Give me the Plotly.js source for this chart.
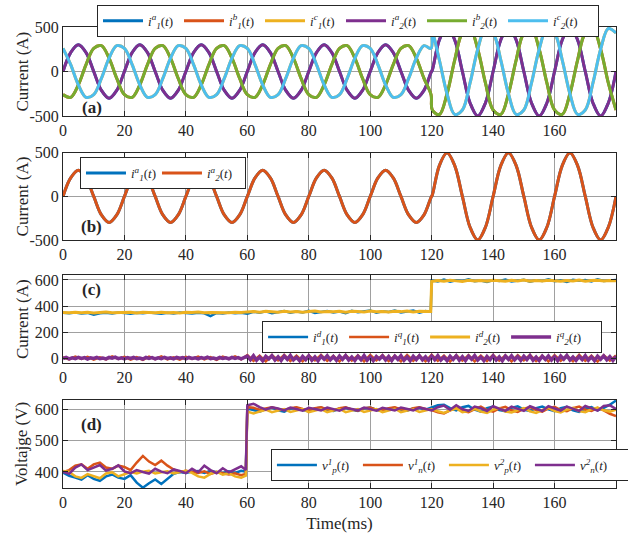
<!DOCTYPE html>
<html>
<head>
<meta charset="utf-8">
<script src="https://cdn.plot.ly/plotly-3.0.1.min.js"></script>
<style>html,body{margin:0;padding:0;background:#fff}#chart{width:628px;height:540px}</style>
</head>
<body>
<div id="chart"></div>
<script>
// ---------- DATA ----------
const xTicks = [0,20,40,60,80,100,120,140,160];
const yTicksAB = [-500,0,500];
const yTickTextAB = ['-500','0','500'];
const yTicksC = [0,200,400,600];
const yTicksD = [400,500,600];
const yTitles = ['Current (A)','Current (A)','Current (A)','Voltajge (V)'];
const panelTags = ['(a)','(b)','(c)','(d)'];

// Panel (a)/(b): phase currents, sampled at peaks / zero crossings
const tAB = [0,2.5,5,7.5,10,12.5,15,17.5,20,22.5,25,27.5,30,32.5,35,37.5,40,42.5,45,47.5,50,52.5,55,57.5,60,62.5,65,67.5,70,72.5,75,77.5,80,82.5,85,87.5,90,92.5,95,97.5,100,102.5,105,107.5,110,112.5,115,117.5,119.8,120.2,122.5,125,127.5,130,132.5,135,137.5,140,142.5,145,147.5,150,152.5,155,157.5,160,162.5,165,167.5,170,172.5,175,177.5,180];
const iA = [0,212,300,212,0,-212,-300,-212, 0,212,300,212,0,-212,-300,-212, 0,212,300,212,0,-212,-300,-212, 0,212,300,212,0,-212,-300,-212, 0,212,300,212,0,-212,-300,-212, 0,212,300,212,0,-212,-300,-212, -10,15, 354,500,354,0,-354,-500,-354,0, 354,500,354,0,-354,-500,-354,0, 354,500,354,0,-354,-500,-354,0];
const iB = [-260,-290,-150,78,260,290,150,-78, -260,-290,-150,78,260,290,150,-78, -260,-290,-150,78,260,290,150,-78, -260,-290,-150,78,260,290,150,-78, -260,-290,-150,78,260,290,150,-78, -260,-290,-150,78,260,290,150,-78, -260,-433, -483,-250,129,433,483,250,-129,-433, -483,-250,129,433,483,250,-129,-433, -483,-250,129,433,483,250,-129,-433];
const iC = [260,78,-150,-290,-260,-78,150,290, 260,78,-150,-290,-260,-78,150,290, 260,78,-150,-290,-260,-78,150,290, 260,78,-150,-290,-260,-78,150,290, 260,78,-150,-290,-260,-78,150,290, 260,78,-150,-290,-260,-78,150,290, 260,433, 129,-250,-483,-433,-129,250,483,433, 129,-250,-483,-433,-129,250,483,433, 129,-250,-483,-433,-129,250,483,433];

// Panel (c): dq currents
const tCd = [0,2,4,6,8,10,12,14,16,18,20,22,24,26,28,30,32,34,36,38,40,42,44,46,48,50,52,54,56,58,60,62,64,66,68,70,72,74,76,78,80,82,84,86,88,90,92,94,96,98,100,102,104,106,108,110,112,114,116,118,119.7,120,122,124,126,128,130,132,134,136,138,140,142,144,146,148,150,152,154,156,158,160,162,164,166,168,170,172,174,176,178,180];
const id1 = [348,344,350,342,347,333,345,349,343,350,346,341,349,344,351,345,340,348,343,350,346,342,349,344,322,347,343,350,345,348,
 340,356,349,360,345,355,362,348,357,351,364,347,356,361,350,358,345,363,352,357,366,349,360,354,365,350,359,366,348,362,
 355,
 597,589,603,586,598,592,605,590,596,584,600,593,604,588,595,601,587,598,593,606,590,597,585,602,594,599,588,605,592,596,600];
const id2 = [351,348,353,349,352,347,350,354,348,351,349,353,347,352,350,348,353,349,351,347,352,350,354,348,351,349,352,348,353,350,
 355,358,353,359,356,352,360,355,358,353,357,361,354,358,356,360,353,359,357,355,361,356,358,354,360,357,362,355,359,358,
 358,
 588,596,591,598,593,589,597,592,595,590,598,594,591,597,593,599,590,595,592,598,594,590,596,593,599,591,595,597,592,596,594];
const tCq1 = [0,2,4,6,8,10,12,14,16,18,20,22,24,26,28,30,32,34,36,38,40,42,44,46,48,50,52,54,56,58,60,62,64,66,68,70,72,74,76,78,80,82,84,86,88,90,92,94,96,98,100,102,104,106,108,110,112,114,116,118,120,122,124,126,128,130,132,134,136,138,140,142,144,146,148,150,152,154,156,158,160,162,164,166,168,170,172,174,176,178,180];
const iq1 = [8,-10,12,-6,10,-12,6,-9,13,-7,9,-11,7,-13,11,-8,14,-10,6,-12,10,-7,12,-9,8,-13,11,-6,13,-10,
 24,-21,18,-25,22,-17,25,-22,19,-24,21,-18,25,-21,17,-25,23,-19,21,-25,24,-18,22,-23,18,-25,24,-20,20,-24,
 25,-21,18,-26,23,-19,22,-25,19,-22,25,-19,21,-25,22,-18,24,-23,18,-25,23,-20,20,-24,25,-21,18,-26,22,-19,21];
const iq2 = [-3,5,-6,2,-4,6,-2,4,-7,3,-2,6,-5,1,-6,5,-1,7,-4,2,-6,4,-3,6,-5,1,-7,5,-2,4,-5,3,-4,6,-3,2,-6,5,-1,4,-5,6,-3,2,-6,4,-2,7,-4,1,-6,5,-3,3,-5,6,-2,4,-6,3,
 15,-12,18,-16,8,-20,14,-6,19,-15,10,-18,16,-9,20,-14,7,-19,13,-11,17,-16,9,-20,15,-8,18,-13,11,-17,16,-10,19,-15,8,-18,14,-12,20,-16,10,-19,13,-7,17,-14,12,-18,15,-9,19,-16,9,-20,14,-11,18,-13,10,-17,
 16,-12,19,-15,8,-19,14,-10,18,-16,11,-18,15,-8,20,-14,9,-19,13,-12,17,-15,10,-20,16,-9,18,-13,12,-17,15,-11,19,-16,8,-18,14,-10,17,-14,11,-19,16,-8,20,-15,9,-17,13,-12,18,-16,10,-19,15,-9,17,-13,12,-18,14];

// Panel (d): DC voltages
const tD = [0,2,4,6,8,10,12,14,16,18,20,22,24,26,28,30,32,34,36,38,40,42,44,46,48,50,52,54,56,58,59.5,60,62,64,66,68,70,72,74,76,78,80,82,84,86,88,90,92,94,96,98,100,102,104,106,108,110,112,114,116,118,120,122,124,126,128,130,132,134,136,138,140,142,144,146,148,150,152,154,156,158,160,162,164,166,168,170,172,174,176,178,180];
const vp1 = [398,388,382,376,390,378,372,386,392,382,378,390,366,350,364,376,362,378,394,400,397,401,403,397,404,399,396,402,397,404,401,
 602,596,592,600,605,596,592,601,604,597,593,602,605,597,594,601,604,598,594,602,605,597,594,601,604,597,595,602,604,598,
 604,612,614,603,596,606,610,598,592,603,608,597,593,604,609,598,594,603,608,599,593,603,607,596,591,602,606,596,604,614,627];
const vn1 = [400,406,420,424,410,424,430,414,410,420,416,406,430,451,433,422,436,420,408,400,404,401,397,402,394,400,397,392,396,390,394,
 606,604,598,602,606,600,597,603,606,600,596,603,606,599,596,603,606,599,595,603,605,598,596,603,606,599,596,603,606,600,
 597,590,586,596,604,594,590,600,608,597,592,602,607,596,591,601,606,597,592,602,607,597,593,603,608,598,594,604,596,585,578];
const vp2 = [403,400,386,381,393,386,380,395,399,386,394,400,395,401,404,395,399,402,395,400,404,397,386,382,394,401,391,396,386,382,388,
 592,586,592,598,590,594,600,591,595,600,590,594,600,590,595,601,590,594,600,591,596,600,590,595,601,590,595,600,591,596,
 600,593,588,596,602,590,594,601,592,588,598,603,592,589,597,603,593,588,597,604,594,589,598,604,594,590,599,605,596,592,598];
const vn2 = [401,394,414,424,406,414,422,404,410,421,402,396,406,400,395,410,401,396,408,403,396,410,399,420,406,396,412,399,408,418,406,
 612,617,606,598,606,602,596,605,601,595,604,601,596,605,600,595,604,601,596,605,600,595,604,600,596,605,600,596,605,600,
 596,606,611,598,612,600,594,608,603,594,609,601,594,608,602,594,609,601,594,609,602,595,608,601,594,610,603,595,610,612,600];

// ---------- STYLE ----------
const FONT = 'Liberation Serif, Times New Roman, Times, serif';
const C = {blue:'#0072BD', orange:'#D95319', yellow:'#EDB120', purple:'#7E2F8E', green:'#77AC30', cyan:'#4DBEEE'};

function lbl(sym, sup, sub){ return '<i>'+sym+'</i><sup><i>'+sup+'</i></sup><sub><i>'+sub+'</i></sub>(<i>t</i>)'; }

const traces = [];
function add(x, y, color, name, ax, leg, w, shape, x0, dx, lw){
  const tr = {type:'scatter', mode:'lines', y:y, name:name,
    line:{color:color, width:w, shape:shape||'linear', smoothing:1},
    xaxis:'x'+ax, yaxis:'y'+ax, legend:leg};
  if(x){ tr.x = x; } else { tr.x0 = x0; tr.dx = dx; }
  if(lw) tr.legendwidth = lw;
  traces.push(tr);
}
// (a)
add(tAB, iA, C.blue,   lbl('i','a','1'), '', 'legend', 3, 'spline');
add(tAB, iB, C.orange, lbl('i','b','1'), '', 'legend', 3, 'spline');
add(tAB, iC, C.yellow, lbl('i','c','1'), '', 'legend', 3, 'spline');
add(tAB, iA, C.purple, lbl('i','a','2'), '', 'legend', 3, 'spline');
add(tAB, iB, C.green,  lbl('i','b','2'), '', 'legend', 3, 'spline');
add(tAB, iC, C.cyan,   lbl('i','c','2'), '', 'legend', 3, 'spline', null, null, 40);
// (b)
add(tAB, iA, C.blue,   lbl('i','a','1'), '2', 'legend2', 3, 'spline', null, null, 21);
add(tAB, iA, C.orange, lbl('i','a','2'), '2', 'legend2', 3, 'spline', null, null, 33);
// (c)
add(tCd, id1, C.blue,   lbl('i','d','1'), '3', 'legend3', 2.5);
add(tCq1, iq1, C.orange, lbl('i','q','1'), '3', 'legend3', 2.5);
add(tCd, id2, C.yellow, lbl('i','d','2'), '3', 'legend3', 3);
add(null, iq2, C.purple, lbl('i','q','2'), '3', 'legend3', 3.5, 'linear', 0, 1, 40);
// (d)
add(tD, vp1, C.blue,   lbl('v','1','p'), '4', 'legend4', 2.5, 'linear', null, null, 31);
add(tD, vn1, C.orange, lbl('v','1','n'), '4', 'legend4', 2.5, 'linear', null, null, 31);
add(tD, vp2, C.yellow, lbl('v','2','p'), '4', 'legend4', 2.5, 'linear', null, null, 31);
add(tD, vn2, C.purple, lbl('v','2','n'), '4', 'legend4', 2.5, 'linear', null, null, 44);

const tickFont = {family:FONT, size:16, color:'#262626'};
function xax(anchor){
  return {domain:[0,1], anchor:anchor, range:[0,180], tickvals:xTicks, ticks:'inside', ticklen:5,
    tickcolor:'#262626', showline:true, linecolor:'#262626', linewidth:1, mirror:'ticks',
    showgrid:true, gridcolor:'#a0a0a0', gridwidth:1, zeroline:false, tickfont:tickFont, fixedrange:true};
}
function yax(anchor, dom, range, vals, text){
  const o = {domain:dom, anchor:anchor, range:range, tickvals:vals, ticks:'inside', ticklen:5,
    tickcolor:'#262626', showline:true, linecolor:'#262626', linewidth:1, mirror:'ticks',
    showgrid:true, gridcolor:'#a0a0a0', gridwidth:1, zeroline:false, tickfont:tickFont};
  if(text) o.ticktext = text;
  return o;
}
const legBase = {orientation:'h', xanchor:'left', yanchor:'top', bgcolor:'#ffffff', bordercolor:'#262626',
  borderwidth:1, font:{family:FONT, size:13, color:'#262626'}, itemwidth:40, entrywidth:26, tracegroupgap:0, traceorder:'normal'};

const domains = [[0.807,1],[0.538,0.727],[0.271,0.462],[0,0.191]];
const tagY = [0.825, 0.568, 0.4306, 0.138];
const annotations = [];
domains.forEach((d,i)=>{
  annotations.push({text:yTitles[i], textangle:-90, x:-0.0741, y:(d[0]+d[1])/2, xref:'paper', yref:'paper',
    xanchor:'center', yanchor:'middle', showarrow:false, font:{family:FONT, size:17, color:'#262626'}});
  annotations.push({text:'<b>'+panelTags[i]+'</b>', x:0.0519, y:tagY[i], xref:'paper', yref:'paper',
    xanchor:'center', yanchor:'middle', showarrow:false, font:{family:FONT, size:17, color:'#262626'}});
});

const layout = {
  width:628, height:540, margin:{l:63, r:12, t:27, b:52, autoexpand:false}, paper_bgcolor:'#fff', plot_bgcolor:'#fff',
  showlegend:true, font:{family:FONT, color:'#262626'},
  xaxis: xax('y'), xaxis2: xax('y2'), xaxis3: xax('y3'),
  xaxis4: Object.assign(xax('y4'), {title:{text:'Time(ms)', font:{family:FONT, size:17, color:'#262626'}, standoff:6}}),
  yaxis:  yax('x',  domains[0], [-500,500], yTicksAB, yTickTextAB),
  yaxis2: yax('x2', domains[1], [-500,500], yTicksAB, yTickTextAB),
  yaxis3: yax('x3', domains[2], [-38,638],  yTicksC, null),
  yaxis4: yax('x4', domains[3], [349,629],  yTicksD, null),
  legend:  Object.assign({}, legBase, {x:0.0615, y:1.048}),
  legend2: Object.assign({}, legBase, {x:0.0307, y:0.718}),
  legend3: Object.assign({}, legBase, {x:0.36,   y:0.362}),
  legend4: Object.assign({}, legBase, {x:0.376,  y:0.0846}),
  annotations: annotations
};
Plotly.newPlot('chart', traces, layout, {staticPlot:true, displayModeBar:false});
</script>
</body>
</html>
